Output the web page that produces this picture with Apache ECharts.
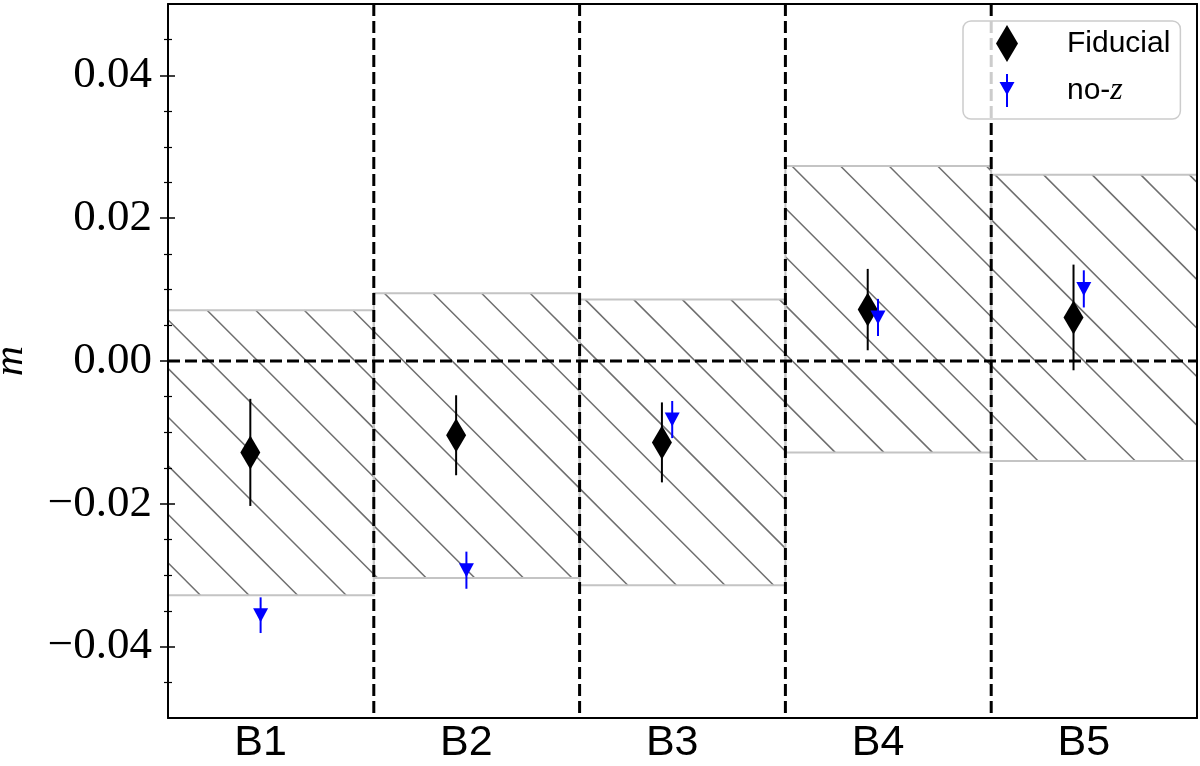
<!DOCTYPE html>
<html>
<head>
<meta charset="utf-8">
<script src="https://cdn.jsdelivr.net/npm/echarts@6/dist/echarts.min.js"></script>
<style>
  html, body { margin: 0; padding: 0; background: #fff; }
  #chart { width: 1200px; height: 766px; }
</style>
</head>
<body>
<div id="chart"></div>
<script>
// bins and measured values
const categories = ['B1', 'B2', 'B3', 'B4', 'B5'];
const binEdges = [-0.45, 0.55, 1.55, 2.55, 3.55, 4.55];
const fiducialValues = [-0.0128, -0.0104, -0.0114, 0.0072, 0.0061];
const fiducialErrors = [0.0075, 0.0056, 0.0056, 0.0057, 0.0074];
const nozValues = [-0.0356, -0.0293, -0.0082, 0.0061, 0.0101];
const nozErrors = [0.0025, 0.0026, 0.0026, 0.0026, 0.0026];
const bandUpper = [0.0071, 0.0095, 0.0086, 0.0273, 0.0261];
const bandLower = [-0.0328, -0.0304, -0.0314, -0.0128, -0.0140];
const fiducialShift = -0.05;
const yMajorTicks = [-0.04, -0.02, 0, 0.02, 0.04];
const yMinorTicks = [-0.045, -0.035, -0.03, -0.025, -0.015, -0.01, -0.005,
  0.005, 0.01, 0.015, 0.025, 0.03, 0.035, 0.045];
const yMin = -0.05, yMax = 0.05;

const HATCH_STEP = 48.6;
const HATCH_PHASE = 6;

const chart = echarts.init(document.getElementById('chart'), null, {renderer: 'canvas'});

const renderBand = (params, api) => {
  const i = params.dataIndex;
  const p0 = api.coord([binEdges[i], api.value(2)]);
  const p1 = api.coord([binEdges[i + 1], api.value(1)]);
  const x0 = p0[0], y0 = p0[1], x1 = p1[0], y1 = p1[1];
  const children = [];
  const kMin = Math.ceil((y0 - x1 - HATCH_PHASE) / HATCH_STEP);
  const kMax = Math.floor((y1 - x0 - HATCH_PHASE) / HATCH_STEP);
  for (let k = kMin; k <= kMax; k++) {
    const c = HATCH_PHASE + k * HATCH_STEP;
    const xa = Math.max(x0, y0 - c);
    const xb = Math.min(x1, y1 - c);
    if (xb > xa) {
      children.push({
        type: 'line',
        shape: {x1: xa, y1: xa + c, x2: xb, y2: xb + c},
        style: {stroke: '#6e6e6e', lineWidth: 1.5}
      });
    }
  }
  children.push({
    type: 'rect',
    shape: {x: x0, y: y0, width: x1 - x0, height: y1 - y0},
    style: {fill: null, stroke: '#c4c4c4', lineWidth: 2}
  });
  return {type: 'group', children: children};
};

const renderDivider = (params, api) => {
  const horizontal = api.value(1) === 1;
  const a = horizontal ? api.coord([binEdges[0], api.value(0)]) : api.coord([api.value(0), yMax]);
  const b = horizontal ? api.coord([binEdges[binEdges.length - 1], api.value(0)]) : api.coord([api.value(0), yMin]);
  return {
    type: 'line',
    shape: {x1: a[0], y1: a[1], x2: b[0], y2: b[1]},
    style: {stroke: '#000', lineWidth: 3, lineDash: [12, 5]}
  };
};

const errorBar = (color) => (params, api) => {
  const x = api.value(0), v = api.value(1), e = api.value(2);
  const top = api.coord([x, v + e]);
  const bot = api.coord([x, v - e]);
  return {
    type: 'line',
    shape: {x1: top[0], y1: top[1], x2: bot[0], y2: bot[1]},
    style: {stroke: color, lineWidth: 2}
  };
};

const dividerData = binEdges.slice(1, -1).map(x => [x, 0]).concat([[0, 1]]);

const fidErrData = categories.map((c, i) => [i + fiducialShift, fiducialValues[i], fiducialErrors[i]]);
const nozErrData = categories.map((c, i) => [i, nozValues[i], nozErrors[i]]);

const diamondIcon = 'path://M11,0L22,18.5L11,37L0,18.5Z';
const nozIcon = 'path://M-1,2L1,2L1,35L-1,35ZM-7.5,10L7.5,10L0,23.3ZM0,0L0.01,0ZM0,37L0.01,37Z';

const yTickLabel = v => (v < 0 ? '\u2212' : '') + Math.abs(v).toFixed(2);

const plainAxis = {
  min: yMin, max: yMax, position: 'left',
  axisLine: {show: false, onZero: false}, axisLabel: {show: false}, splitLine: {show: false}, z: 5
};

const option = {
  animation: false,
  backgroundColor: '#fff',
  grid: {left: 168, right: 3, top: 4, bottom: 48, containLabel: false, outerBoundsMode: 'none'},
  legend: {
    orient: 'vertical',
    left: 963,
    top: 21,
    padding: [4, 10, 10, 33],
    itemGap: 10,
    itemWidth: 22,
    itemHeight: 37,
    backgroundColor: 'rgba(255,255,255,0.8)',
    borderColor: '#cccccc',
    borderWidth: 1.5,
    borderRadius: 8,
    selectedMode: false,
    data: [
      {name: 'Fiducial', icon: diamondIcon},
      {name: 'no-z', icon: nozIcon}
    ],
    formatter: name => name === 'no-z' ? '{sp| }no-{i|z}' : '{sp| }' + name,
    textStyle: {
      fontFamily: 'Liberation Sans',
      fontSize: 30,
      color: '#000',
      rich: {
        sp: {width: 44, fontSize: 30},
        i: {fontFamily: 'Liberation Serif', fontStyle: 'italic', fontSize: 32, color: '#000'}
      }
    }
  },
  xAxis: [
    {
      type: 'value', min: binEdges[0], max: binEdges[binEdges.length - 1],
      position: 'bottom', z: 5,
      axisLine: {onZero: false, lineStyle: {color: '#000', width: 2}},
      axisTick: {show: false},
      splitLine: {show: false},
      axisLabel: {
        customValues: [0, 1, 2, 3, 4],
        formatter: v => categories[Math.round(v)],
        fontFamily: 'Liberation Sans', fontSize: 43, color: '#000', margin: 4
      }
    },
    {
      type: 'value', min: binEdges[0], max: binEdges[binEdges.length - 1],
      position: 'top', z: 5,
      axisLine: {onZero: false, lineStyle: {color: '#000', width: 2}},
      axisTick: {show: false}, axisLabel: {show: false}, splitLine: {show: false}
    }
  ],
  yAxis: [
    {
      type: 'value', min: yMin, max: yMax, position: 'left', z: 5,
      name: 'm',
      nameLocation: 'middle',
      nameRotate: 90,
      nameGap: 136,
      nameTextStyle: {fontFamily: 'Liberation Serif', fontStyle: 'italic', fontSize: 42, color: '#000'},
      axisLine: {onZero: false, lineStyle: {color: '#000', width: 2}},
      axisTick: {customValues: yMajorTicks, length: 8, lineStyle: {color: '#000', width: 1.5}},
      splitLine: {show: false},
      axisLabel: {
        customValues: yMajorTicks,
        formatter: yTickLabel,
        fontFamily: 'Liberation Serif', fontSize: 45, color: '#000', margin: 16
      }
    },
    Object.assign({type: 'value', axisTick: {customValues: yMajorTicks, inside: true, length: 7, lineStyle: {color: '#000', width: 1.5}}}, plainAxis),
    Object.assign({type: 'value', axisTick: {customValues: yMinorTicks, length: 4, lineStyle: {color: '#000', width: 1.2}}}, plainAxis),
    Object.assign({type: 'value', axisTick: {customValues: yMinorTicks, inside: true, length: 4, lineStyle: {color: '#000', width: 1.2}}}, plainAxis),
    {
      type: 'value', min: yMin, max: yMax, position: 'right', z: 5,
      axisLine: {show: true, onZero: false, lineStyle: {color: '#000', width: 2}},
      axisTick: {show: false}, axisLabel: {show: false}, splitLine: {show: false}
    }
  ],
  series: [
    {
      name: 'bands',
      type: 'custom',
      z: 1,
      silent: true,
      renderItem: renderBand,
      encode: {x: 0, y: [1, 2]},
      data: categories.map((c, i) => [i, bandLower[i], bandUpper[i]])
    },
    {
      name: 'dividers',
      type: 'custom',
      z: 2,
      silent: true,
      renderItem: renderDivider,
      data: dividerData
    },
    {
      name: 'fiducial-err',
      type: 'custom',
      z: 3,
      renderItem: errorBar('#000'),
      encode: {x: 0, y: 1},
      data: fidErrData
    },
    {
      name: 'Fiducial',
      type: 'scatter',
      z: 4,
      symbol: 'diamond',
      symbolSize: [20, 34],
      itemStyle: {color: '#000', opacity: 1},
      data: fidErrData.map(d => [d[0], d[1]])
    },
    {
      name: 'no-z-err',
      type: 'custom',
      z: 5,
      renderItem: errorBar('#0000ff'),
      encode: {x: 0, y: 1},
      data: nozErrData
    },
    {
      name: 'no-z',
      type: 'scatter',
      z: 6,
      symbol: 'triangle',
      symbolRotate: 180,
      symbolSize: [15, 14],
      itemStyle: {color: '#0000ff', opacity: 1},
      data: nozErrData.map(d => [d[0], d[1]])
    }
  ]
};

chart.setOption(option);
window.addEventListener('resize', () => {
  chart.resize();
});
</script>
</body>
</html>
